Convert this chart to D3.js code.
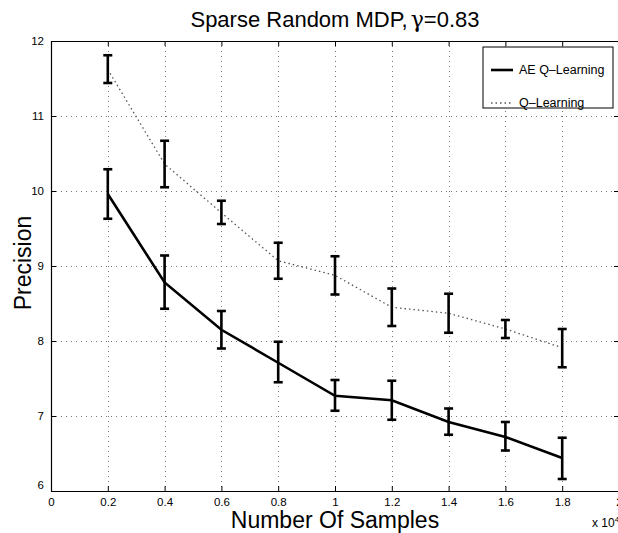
<!DOCTYPE html>
<html>
<head>
<meta charset="utf-8">
<script src="https://cdn.jsdelivr.net/npm/d3@7"></script>
<style>
body { margin: 0; background: #fff; }
svg { display: block; font-family: "Liberation Sans", Arial, sans-serif; }
.grid line { stroke: #777; stroke-width: 1; stroke-dasharray: 1,4; shape-rendering: crispEdges; }
.tick text { font-size: 11.5px; fill: #000; }
</style>
</head>
<body>
<svg width="618" height="533"></svg>
<script>
// samples (x 10^4)
var samples = [0.2, 0.4, 0.6, 0.8, 1.0, 1.2, 1.4, 1.6, 1.8]
// AE Q-Learning: mean, lower, upper
var aeMean = [9.96, 8.78, 8.15, 7.71, 7.27, 7.21, 6.92, 6.72, 6.44]
var aeLow  = [9.63, 8.43, 7.90, 7.45, 7.07, 6.95, 6.75, 6.54, 6.16]
var aeHigh = [10.29, 9.14, 8.40, 7.99, 7.48, 7.47, 7.10, 6.92, 6.71]
// Q-Learning
var qMean = [11.62, 10.36, 9.71, 9.07, 8.875, 8.45, 8.37, 8.16, 7.91]
var qLow  = [11.44, 10.05, 9.56, 8.83, 8.62, 8.20, 8.11, 8.04, 7.65]
var qHigh = [11.81, 10.67, 9.87, 9.31, 9.13, 8.70, 8.63, 8.28, 8.16]

var xTicks = [0, 0.2, 0.4, 0.6, 0.8, 1, 1.2, 1.4, 1.6, 1.8, 2]
var yTicks = [6, 7, 8, 9, 10, 11, 12]

var svg = d3.select("svg"),
    margin = { top: 41, left: 51 },
    width = 568,
    height = 450,
    g = svg.append("g")
           .attr("transform", "translate(" + margin.left + "," + margin.top + ")")

var x = d3.scaleLinear().domain([0, 2]).range([0, width])
var y = d3.scaleLinear().domain([6, 12]).range([height, 0])

// grid
g.append("g")
 .attr("class", "grid")
 .selectAll("line")
 .data(xTicks.slice(1, -1))
 .enter().append("line")
 .attr("x1", function(d) { return Math.round(x(d)) + 0.5 })
 .attr("x2", function(d) { return Math.round(x(d)) + 0.5 })
 .attr("y1", 0).attr("y2", height)

g.append("g")
 .attr("class", "grid")
 .selectAll("line")
 .data(yTicks.slice(1, -1))
 .enter().append("line")
 .attr("y1", function(d) { return Math.round(y(d)) + 0.5 })
 .attr("y2", function(d) { return Math.round(y(d)) + 0.5 })
 .attr("x1", 0).attr("x2", width)

// axes, ticks pointing in
function styleAxis(sel) {
	sel.select(".domain").attr("stroke", "#000").attr("stroke-width", 1.2)
	sel.selectAll(".tick line").attr("stroke", "#000")
}

g.append("g")
 .attr("transform", "translate(0," + height + ")")
 .call(d3.axisBottom(x).tickValues(xTicks).tickSizeInner(-5).tickSizeOuter(0).tickPadding(7)
        .tickFormat(function(d) { return d3.format("~g")(d) }))
 .call(styleAxis)

g.append("g")
 .call(d3.axisTop(x).tickValues(xTicks).tickSizeInner(-5).tickSizeOuter(0).tickFormat(""))
 .call(styleAxis)

g.append("g")
 .call(d3.axisLeft(y).tickValues(yTicks).tickSizeInner(-5).tickSizeOuter(0).tickPadding(7)
        .tickFormat(d3.format("d")))
 .call(styleAxis)
 .selectAll(".tick text").attr("dy", function(d) { return d === 6 ? "-0.25em" : "0.32em" })

g.append("g")
 .attr("transform", "translate(" + width + ",0)")
 .call(d3.axisRight(y).tickValues(yTicks).tickSizeInner(-5).tickSizeOuter(0).tickFormat(""))
 .call(styleAxis)

// series
var series = [
	{ name: "AE Q\u2013Learning", mean: aeMean, low: aeLow, high: aeHigh, dash: null, color: "#000", w: 2.6 },
	{ name: "Q\u2013Learning", mean: qMean, low: qLow, high: qHigh, dash: "1.5,3", color: "#555", w: 1.3 }
]

var line = d3.line()
	.x(function(d) { return x(d[0]) })
	.y(function(d) { return y(d[1]) })

series.forEach(function(s) {
	var pts = samples.map(function(v, i) { return [v, s.mean[i]] })
	g.append("path")
	 .datum(pts)
	 .attr("fill", "none")
	 .attr("stroke", s.color)
	 .attr("stroke-width", s.w)
	 .attr("stroke-dasharray", s.dash)
	 .attr("d", line)

	var eb = g.append("g").attr("stroke", "#000").attr("stroke-width", 2.6)
	samples.forEach(function(v, i) {
		var cx = x(v)
		eb.append("line").attr("x1", cx).attr("x2", cx).attr("y1", y(s.low[i])).attr("y2", y(s.high[i]))
		eb.append("line").attr("x1", cx - 4.5).attr("x2", cx + 4.5).attr("y1", y(s.low[i])).attr("y2", y(s.low[i]))
		eb.append("line").attr("x1", cx - 4.5).attr("x2", cx + 4.5).attr("y1", y(s.high[i])).attr("y2", y(s.high[i]))
	})
})

// legend
var leg = svg.append("g").attr("transform", "translate(483,47)")
leg.append("rect").attr("width", 130).attr("height", 61)
   .attr("fill", "#fff").attr("stroke", "#000").attr("stroke-width", 1)
series.forEach(function(s, i) {
	var ly = 23 + i * 33
	leg.append("line").attr("x1", 8).attr("x2", 30).attr("y1", ly).attr("y2", ly)
	   .attr("stroke", s.color).attr("stroke-width", s.w).attr("stroke-dasharray", s.dash)
	leg.append("text").attr("x", 36).attr("y", ly).attr("dy", "0.35em")
	   .attr("font-size", 12.5).text(s.name)
})

// title and labels
var title = svg.append("text")
	.attr("x", margin.left + width / 2).attr("y", 27)
	.attr("text-anchor", "middle").attr("font-size", 22)
title.append("tspan").text("Sparse Random MDP,")
title.append("tspan").attr("font-family", "DejaVu Serif").attr("dx", 3).text("\u03b3")
title.append("tspan").text("=0.83")

svg.append("text")
   .attr("x", margin.left + width / 2).attr("y", 528)
   .attr("text-anchor", "middle").attr("font-size", 23)
   .text("Number Of Samples")

svg.append("text")
   .attr("transform", "translate(31,263) rotate(-90)")
   .attr("text-anchor", "middle").attr("font-size", 23)
   .text("Precision")

var mult = svg.append("text").attr("x", 592).attr("y", 527).attr("font-size", 12)
mult.append("tspan").text("x 10")
mult.append("tspan").attr("dy", -5).attr("font-size", 8).text("4")
</script>
</body>
</html>
